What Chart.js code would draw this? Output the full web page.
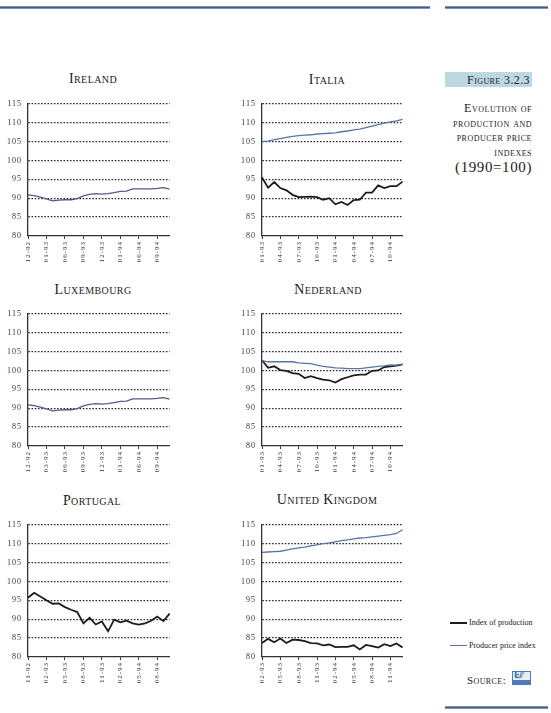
<!DOCTYPE html>
<html><head><meta charset="utf-8">
<script src="https://cdn.jsdelivr.net/npm/chart.js@4.4.1/dist/chart.umd.min.js"></script>
<style>
html,body{margin:0;padding:0;background:#fff;}
body{width:551px;height:713px;position:relative;overflow:hidden;font-family:"Liberation Serif","DejaVu Serif",serif;color:#222;}
canvas{position:absolute;}
.t{position:absolute;font-variant:small-caps;font-size:14px;color:#222;transform:translateX(-50%);white-space:nowrap;letter-spacing:0.4px;line-height:1;}
.rule{position:absolute;height:3px;background:linear-gradient(#9fb2cc,#3d5d8e 50%,#9fb2cc);}
.fig{position:absolute;left:445px;top:72px;width:87px;height:15px;background:#bcd8e3;}
.fig span{position:absolute;right:2px;top:1px;font-variant:small-caps;font-size:12px;letter-spacing:0.4px;color:#222;}
.desc{position:absolute;right:19px;top:101px;text-align:right;font-variant:small-caps;font-size:12px;line-height:14.5px;letter-spacing:0.5px;color:#222;}
.desc .big{font-variant:normal;font-size:15px;line-height:17px;letter-spacing:0.6px;}
.lg{position:absolute;left:450px;width:17px;height:0;}
.lgt{position:absolute;left:469px;font-size:8px;color:#222;white-space:nowrap;}
.src{position:absolute;left:467px;top:674px;font-variant:small-caps;font-size:11px;letter-spacing:0.4px;color:#222;}
.logo{position:absolute;left:512px;top:671px;width:19px;height:14px;background:#e8eef6;border:1px solid #4f7bb8;box-sizing:border-box;}
.logo b{position:absolute;left:1px;top:0px;width:15px;height:8px;font:bold 8px "DejaVu Sans",sans-serif;color:#3f6fb3;letter-spacing:-0.5px;line-height:8px;}
.logo i{position:absolute;left:0;right:0;bottom:0;height:4px;background:#4f7bb8;}
</style>
</head>
<body>
<div class="rule" style="left:0;top:6px;width:430px;"></div>
<div class="rule" style="left:445px;top:6px;width:103px;"></div>
<div class="rule" style="left:445px;top:706px;width:103px;"></div>

<div class="t" style="left:93px;top:72px;">Ireland</div>
<div class="t" style="left:327px;top:73px;">Italia</div>
<div class="t" style="left:93px;top:283px;">Luxembourg</div>
<div class="t" style="left:328px;top:283px;">Nederland</div>
<div class="t" style="left:92px;top:494px;">Portugal</div>
<div class="t" style="left:327px;top:493px;">United Kingdom</div>

<div class="fig"><span>Figure 3.2.3</span></div>
<div class="desc">Evolution of<br>production and<br>producer price<br>indexes<br><span class="big">(1990=100)</span></div>

<div class="lg" style="top:622px;border-top:2px solid #1c1c1c;"></div>
<div class="lgt" style="top:618px;">Index of production</div>
<div class="lg" style="top:645px;border-top:1.3px solid #5b73a3;"></div>
<div class="lgt" style="top:641px;">Producer price index</div>
<div class="src">Source:</div>
<div class="logo"><b>E/⁄</b><i></i></div>

<canvas id="c1" width="180" height="173" style="left:0;top:93px;"></canvas>
<canvas id="c2" width="179" height="173" style="left:234px;top:93px;"></canvas>
<canvas id="c3" width="180" height="173" style="left:0;top:303px;"></canvas>
<canvas id="c4" width="179" height="173" style="left:234px;top:303px;"></canvas>
<canvas id="c5" width="180" height="173" style="left:0;top:514px;"></canvas>
<canvas id="c6" width="179" height="173" style="left:234px;top:514px;"></canvas>

<script>
// ---- Y axis ----
const yMin = 80, yMax = 115, yStep = 5;

// ---- Months (categories) ----
const monthsDec92 = ["12-92","01-93","02-93","03-93","04-93","05-93","06-93","07-93","08-93","09-93","10-93","11-93","12-93","01-94","02-94","03-94","04-94","05-94","06-94","07-94","08-94","09-94","10-94","11-94"];
const monthsJan93 = ["01-93","02-93","03-93","04-93","05-93","06-93","07-93","08-93","09-93","10-93","11-93","12-93","01-94","02-94","03-94","04-94","05-94","06-94","07-94","08-94","09-94","10-94","11-94","12-94"];
const monthsNov92 = ["11-92","12-92","01-93","02-93","03-93","04-93","05-93","06-93","07-93","08-93","09-93","10-93","11-93","12-93","01-94","02-94","03-94","04-94","05-94","06-94","07-94","08-94","09-94","10-94"];
const monthsFeb93 = ["02-93","03-93","04-93","05-93","06-93","07-93","08-93","09-93","10-93","11-93","12-93","01-94","02-94","03-94","04-94","05-94","06-94","07-94","08-94","09-94","10-94","11-94","12-94","01-95"];

// ---- Printed tick labels (every third month) ----
const ticksIreland    = ["12-92","01-93","06-93","09-93","12-93","01-94","06-94","09-94"];
const ticksItalia     = ["01-93","04-93","07-93","10-93","01-94","04-94","07-94","10-94"];
const ticksLuxembourg = ["12-92","03-93","06-93","09-93","12-93","01-94","06-94","09-94"];
const ticksNederland  = ["01-93","04-93","07-93","10-93","01-94","04-94","07-94","10-94"];
const ticksPortugal   = ["11-92","02-93","05-93","08-93","11-93","02-94","05-94","08-94"];
const ticksUK         = ["02-93","05-93","08-93","11-93","02-94","05-94","08-94","11-94"];

// ---- Series ----
const irelandIndex = [90.9,90.7,90.3,89.8,89.3,89.5,89.6,89.6,89.9,90.6,91.0,91.2,91.1,91.2,91.5,91.8,91.9,92.5,92.5,92.5,92.5,92.6,92.8,92.4];
const luxembourgIndex = [90.9,90.7,90.3,89.8,89.3,89.5,89.6,89.6,89.9,90.6,91.0,91.2,91.1,91.2,91.5,91.8,91.9,92.5,92.5,92.5,92.5,92.6,92.8,92.4];

const italiaProduction = [95.5,92.8,94.3,92.7,92.1,90.9,90.3,90.35,90.4,90.3,89.6,90.0,88.4,89.0,88.2,89.5,89.6,91.5,91.5,93.4,92.7,93.2,93.2,94.4];
const italiaPrices     = [105.0,105.1,105.5,105.8,106.1,106.4,106.6,106.7,106.8,107.0,107.1,107.2,107.3,107.6,107.8,108.1,108.3,108.7,109.1,109.5,109.9,110.2,110.5,110.9];

const nederlandProduction = [102.7,100.7,101.1,100.1,99.9,99.3,99.1,98.0,98.5,98.0,97.6,97.4,96.8,97.7,98.2,98.7,98.9,98.9,99.9,100.0,100.9,101.1,101.3,101.6];
const nederlandPrices     = [102.6,102.3,102.3,102.3,102.3,102.3,102.0,101.9,101.8,101.4,101.1,100.9,100.7,100.6,100.5,100.5,100.5,100.7,100.9,101.1,101.2,101.5,101.4,101.6];

const portugalProduction = [95.7,97.0,96.0,95.0,94.1,94.2,93.2,92.5,91.9,88.9,90.4,88.6,89.4,86.8,89.9,89.2,89.6,88.9,88.6,88.9,89.6,90.7,89.5,91.5];

const ukProduction = [83.7,84.8,83.9,84.9,83.7,84.6,84.5,84.2,83.7,83.6,83.1,83.3,82.6,82.7,82.7,83.1,82.0,83.2,82.9,82.5,83.4,82.9,83.6,82.5];
const ukPrices     = [107.7,107.8,107.9,108.0,108.3,108.6,108.9,109.1,109.4,109.7,110.0,110.2,110.5,110.8,111.0,111.3,111.5,111.6,111.8,112.0,112.2,112.4,112.7,113.7];

// ---- Styles ----
const BLACK = "#1c1c1c", BLUE = "#5b73a3", PURPLE = "#55578a";
const FONT = "'Liberation Serif', 'DejaVu Serif', serif";

function prod(data){ return {data, borderColor:BLACK, borderWidth:1.8, pointRadius:0, tension:0, fill:false}; }
function price(data, color){ return {data, borderColor:color||BLUE, borderWidth:1.3, pointRadius:0, tension:0, fill:false}; }

const spacing = {
  id:'spacing',
  beforeDraw(c){ c.ctx.letterSpacing = '1px'; },
  afterDraw(c){ c.ctx.letterSpacing = '0px'; }
};

function makeChart(id, months, tickLabels, datasets){
  return new Chart(document.getElementById(id), {
    type:'line',
    data:{labels:months, datasets},
    plugins:[spacing],
    options:{
      responsive:false, animation:false, devicePixelRatio:1,
      layout:{padding:{top:10,right:9,left:0,bottom:0}},
      plugins:{legend:{display:false}, tooltip:{enabled:false}, title:{display:false}},
      scales:{
        x:{
          type:'category', offset:false,
          afterFit(s){ s.height = 30; },
          grid:{drawOnChartArea:false, drawTicks:true, tickLength:3,
                color:ctx => (ctx.index % 3 === 0 ? '#333' : 'rgba(0,0,0,0)'), lineWidth:1},
          border:{display:true, color:'#333', width:1.3},
          ticks:{autoSkip:false, maxRotation:90, minRotation:90, padding:2,
                 color:'#333', font:{family:FONT, size:7},
                 callback:(v,i) => (i % 3 === 0 ? tickLabels[i/3] : '')}
        },
        y:{
          min:yMin, max:yMax,
          afterFit(s){ s.width = 28; },
          grid:{drawTicks:false, lineWidth:1.3,
                color:ctx => (ctx.tick && ctx.tick.value === yMin ? 'rgba(0,0,0,0)' : '#2a2a2a')},
          border:{display:true, color:'#333', width:1.3, dash:[1.6,1.6]},
          ticks:{stepSize:yStep, padding:6, color:'#333', font:{family:FONT, size:8}}
        }
      }
    }
  });
}

makeChart('c1', monthsDec92, ticksIreland, [price(irelandIndex, PURPLE)]);
makeChart('c2', monthsJan93, ticksItalia, [price(italiaPrices), prod(italiaProduction)]);
makeChart('c3', monthsDec92, ticksLuxembourg, [price(luxembourgIndex, PURPLE)]);
makeChart('c4', monthsJan93, ticksNederland, [price(nederlandPrices), prod(nederlandProduction)]);
makeChart('c5', monthsNov92, ticksPortugal, [prod(portugalProduction)]);
makeChart('c6', monthsFeb93, ticksUK, [price(ukPrices), prod(ukProduction)]);
</script>
</body></html>
